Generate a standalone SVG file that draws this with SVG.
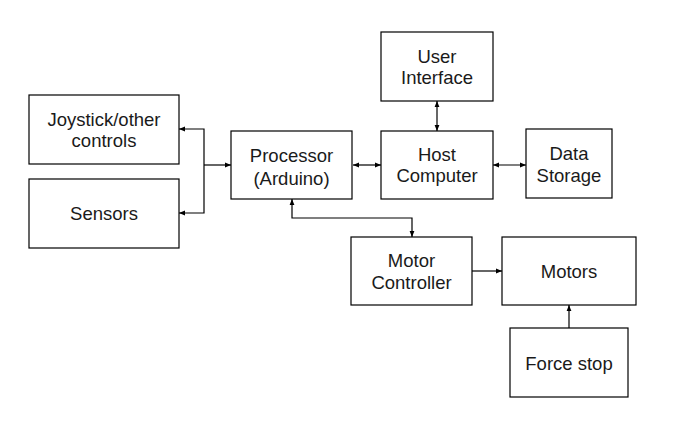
<svg xmlns="http://www.w3.org/2000/svg" width="681" height="427" viewBox="0 0 681 427">
<style>
.box{fill:#fff;stroke:#000;stroke-width:1.2}
.t{font-family:"Liberation Sans",Arial,sans-serif;font-size:18.5px;fill:#1a1a1a;text-anchor:middle}
.c{fill:none;stroke:#000;stroke-width:1.2}
</style>
<defs>
<marker id="ah" viewBox="0 0 10 10" refX="10" refY="5" markerWidth="6" markerHeight="6" markerUnits="userSpaceOnUse" orient="auto-start-reverse">
<path d="M0,1 L10,5 L0,9 z" fill="#000"/>
</marker>
</defs>
<rect width="681" height="427" fill="#fff"/>
<g id="connectors">
<path class="c" d="M179,129 H204 V213 H179" marker-start="url(#ah)" marker-end="url(#ah)"/>
<path class="c" d="M204,165 H231" marker-end="url(#ah)"/>
<path class="c" d="M353,165 H381" marker-start="url(#ah)" marker-end="url(#ah)"/>
<path class="c" d="M493,165 H526" marker-start="url(#ah)" marker-end="url(#ah)"/>
<path class="c" d="M437,101 V131" marker-start="url(#ah)" marker-end="url(#ah)"/>
<path class="c" d="M292,199 V218 H412 V237" marker-start="url(#ah)" marker-end="url(#ah)"/>
<path class="c" d="M472,271 H502" marker-end="url(#ah)"/>
<path class="c" d="M569,328 V305" marker-end="url(#ah)"/>
</g>
<g id="joystick"><rect class="box" x="29" y="95" width="150" height="69"/><text class="t" x="104" y="126">Joystick/other</text><text class="t" x="104" y="147">controls</text></g>
<g id="sensors"><rect class="box" x="29" y="179" width="150" height="69"/><text class="t" x="104" y="220">Sensors</text></g>
<g id="processor"><rect class="box" x="231" y="131" width="121" height="68"/><text class="t" x="291.5" y="162">Processor</text><text class="t" x="291.5" y="185">(Arduino)</text></g>
<g id="user-interface"><rect class="box" x="381" y="32" width="112" height="69"/><text class="t" x="437" y="63">User</text><text class="t" x="437" y="84">Interface</text></g>
<g id="host-computer"><rect class="box" x="381" y="131" width="112" height="68"/><text class="t" x="437" y="161">Host</text><text class="t" x="437" y="182">Computer</text></g>
<g id="data-storage"><rect class="box" x="526" y="129" width="86" height="69"/><text class="t" x="569" y="160">Data</text><text class="t" x="569" y="182">Storage</text></g>
<g id="motor-controller"><rect class="box" x="351" y="237" width="121" height="68"/><text class="t" x="411.5" y="267">Motor</text><text class="t" x="411.5" y="289">Controller</text></g>
<g id="motors"><rect class="box" x="502" y="237" width="134" height="68"/><text class="t" x="569" y="278">Motors</text></g>
<g id="force-stop"><rect class="box" x="510" y="328" width="118" height="69"/><text class="t" x="569" y="370">Force stop</text></g>
</svg>
